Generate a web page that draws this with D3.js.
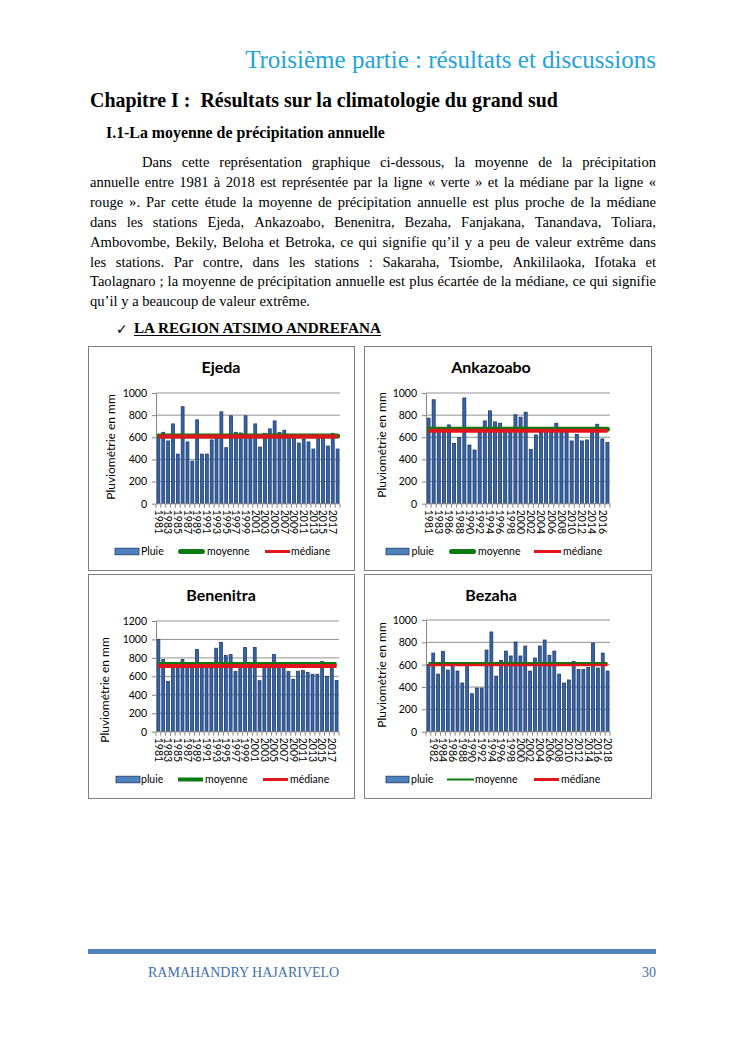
<!DOCTYPE html>
<html><head><meta charset="utf-8">
<script src="https://cdn.jsdelivr.net/npm/d3@7"></script>
<style>body{margin:0;background:#fff}svg{display:block}</style>
</head><body>
<script>
// ---------- DATA ----------
const years1981to2018 = [1981,1982,1983,1984,1985,1986,1987,1988,1989,1990,1991,1992,1993,1994,1995,1996,1997,1998,1999,2000,2001,2002,2003,2004,2005,2006,2007,2008,2009,2010,2011,2012,2013,2014,2015,2016,2017,2018];
const ankazoaboYears = [1981,1982,1983,1985,1986,1987,1988,1989,1990,1991,1992,1993,1994,1995,1996,1997,1998,1999,2000,2001,2002,2003,2004,2005,2006,2007,2008,2009,2010,2011,2012,2013,2014,2015,2016,2017];

const ejedaRain = [600,645,567,721,448,876,558,385,758,448,448,576,605,830,506,794,645,639,794,600,721,512,636,676,748,645,664,605,590,548,585,558,494,600,605,521,636,494];
const ejedaMean = 612, ejedaMedian = 607;

const ankazoaboRain = [773,939,660,650,712,545,597,955,530,485,655,748,839,739,727,665,650,803,782,827,491,621,650,660,645,727,670,655,567,627,567,576,660,718,585,555];
const ankazoaboMean = 672, ankazoaboMedian = 660;

const benenitraRain = [1000,782,545,720,725,782,728,715,891,722,718,688,905,968,825,836,653,725,913,730,913,553,722,718,836,728,722,652,569,656,663,641,623,623,760,598,730,555];
const benenitraMean = 735, benenitraMedian = 713;

const bezahaRain = [600,704,516,719,552,590,543,436,598,340,391,391,731,893,498,639,722,678,803,678,767,543,660,767,821,684,722,516,436,463,630,558,558,576,794,570,704,543];
const bezahaMean = 614, bezahaMedian = 598;

const ejedaTickLabels = [1981,1983,1985,1987,1989,1991,1993,1995,1997,1999,2001,2003,2005,2007,2009,2011,2013,2015,2017];
const ankazoaboTickLabels = [1981,1983,1986,1988,1990,1992,1994,1996,1998,2000,2002,2004,2006,2008,2010,2012,2014,2016];
const benenitraTickLabels = [1981,1983,1985,1987,1989,1991,1993,1995,1997,1999,2001,2003,2005,2007,2009,2011,2013,2015,2017];
const bezahaTickLabels = [1982,1984,1986,1988,1990,1992,1994,1996,1998,2000,2002,2004,2006,2008,2010,2012,2014,2016,2018];

const yTicks1000 = [0,200,400,600,800,1000];
const yTicks1200 = [0,200,400,600,800,1000,1200];

const legendEjeda = ["Pluie","moyenne","médiane"];
const legendOthers = ["pluie","moyenne","médiane"];
const yAxisTitle = "Pluviométrie en mm";

const headerText = "Troisième partie : résultats et discussions";
const chapterText = "Chapitre I :  Résultats sur la climatologie du grand sud";
const sectionText = "I.1-La moyenne de précipitation annuelle";
const paragraphLines = [
 "Dans cette représentation graphique ci-dessous, la moyenne de la précipitation",
 "annuelle entre 1981 à 2018 est représentée par la ligne « verte » et la médiane par la ligne «",
 "rouge ». Par cette étude la moyenne de précipitation annuelle est plus proche de la médiane",
 "dans les stations Ejeda, Ankazoabo, Benenitra, Bezaha, Fanjakana, Tanandava, Toliara,",
 "Ambovombe, Bekily, Beloha et Betroka, ce qui signifie qu’il y a peu de valeur extrême dans",
 "les stations. Par contre, dans les stations : Sakaraha, Tsiombe, Ankililaoka, Ifotaka et",
 "Taolagnaro ; la moyenne de précipitation annuelle est plus écartée de la médiane, ce qui signifie",
 "qu’il y a beaucoup de valeur extrême."
];
const regionText = "LA REGION ATSIMO ANDREFANA";
const footerName = "RAMAHANDRY HAJARIVELO";
const pageNumber = "30";

// ---------- PAGE ----------
const W = 745, H = 1053;
const svg = d3.select("body").append("svg").attr("width", W).attr("height", H);
svg.append("rect").attr("width", W).attr("height", H).attr("fill", "#fff");

function fit(sel, w) {
  const len = sel.node().getComputedTextLength();
  const fs = parseFloat(sel.attr("font-size"));
  sel.attr("font-size", fs * w / len);
  return sel;
}
const serif = "Liberation Serif, Times New Roman, serif";

fit(svg.append("text").attr("x", 656).attr("y", 68).attr("text-anchor", "end")
  .attr("font-family", serif).attr("font-size", 25).attr("fill", "#22a3dc").text(headerText), 411);

fit(svg.append("text").attr("x", 90).attr("y", 107).attr("font-family", serif).style("white-space", "pre")
  .attr("font-weight", "bold").attr("font-size", 20).attr("fill", "#000").text(chapterText), 468);

fit(svg.append("text").attr("x", 106).attr("y", 138).attr("font-family", serif)
  .attr("font-weight", "bold").attr("font-size", 16).attr("fill", "#000").text(sectionText), 279);

// justified paragraph
const pFont = 14.6;
const measurer = svg.append("text").attr("font-family", serif).attr("font-size", pFont).attr("visibility", "hidden");
function wordWidth(w) { measurer.text(w); return measurer.node().getComputedTextLength(); }
paragraphLines.forEach((line, i) => {
  const x0 = i === 0 ? 142 : 90, x1 = 656;
  const y = 167 + i * 19.9;
  const words = line.split(" ");
  const widths = words.map(wordWidth);
  const spaceW = wordWidth("a a") - wordWidth("aa");
  const total = d3.sum(widths);
  const gap = (i === paragraphLines.length - 1 || words.length < 2) ? spaceW : (x1 - x0 - total) / (words.length - 1);
  const t = svg.append("text").attr("font-family", serif).attr("font-size", pFont).attr("y", y).attr("fill", "#000");
  let x = x0;
  words.forEach((w, k) => {
    t.append("tspan").attr("x", x).text(w);
    x += widths[k] + gap;
  });
});
measurer.remove();

svg.append("text").attr("x", 116).attr("y", 334).attr("font-family", "DejaVu Sans")
  .attr("font-size", 14).attr("fill", "#000").text("✓");
fit(svg.append("text").attr("x", 134).attr("y", 333).attr("font-family", serif)
  .attr("font-weight", "bold").attr("font-size", 13.5).attr("fill", "#000").text(regionText), 247);
svg.append("line").attr("x1", 134).attr("x2", 381).attr("y1", 335.5).attr("y2", 335.5)
  .attr("stroke", "#000").attr("stroke-width", 1);

// footer
svg.append("rect").attr("x", 88).attr("y", 949).attr("width", 568).attr("height", 5).attr("fill", "#4f81bd");
svg.append("text").attr("x", 148).attr("y", 977).attr("font-family", serif).attr("font-size", 14)
  .attr("fill", "#3f6fae").text(footerName);
svg.append("text").attr("x", 656).attr("y", 977).attr("text-anchor", "end").attr("font-family", serif)
  .attr("font-size", 14).attr("fill", "#3f6fae").text(pageNumber);

// ---------- CHARTS ----------
const sans = "Lato, Carlito, Open Sans, sans-serif";
const charts = [
  {name: "Ejeda", cats: years1981to2018, rain: ejedaRain, mean: ejedaMean, median: ejedaMedian,
   ticks: ejedaTickLabels, yTicks: yTicks1000, legend: legendEjeda,
   box: [88, 346, 354, 570], plot: [156, 393, 340, 503.7], title: [221, 367], yTitle: [110.5, 447], legY: 551.5,
   lx: {sw: [115, 139], t1: 141, g: [180.5, 202.5], t2: 207, r: [265, 290], t3: 291},
   gw: 5, rw: 4, gcap: "round", lgw: 5, lrw: 3},
  {name: "Ankazoabo", cats: ankazoaboYears, rain: ankazoaboRain, mean: ankazoaboMean, median: ankazoaboMedian,
   ticks: ankazoaboTickLabels, yTicks: yTicks1000, legend: legendOthers,
   box: [364, 346, 651, 570], plot: [426, 393, 610, 503.7], title: [491, 367], yTitle: [382, 445], legY: 551.5,
   lx: {sw: [386, 409], t1: 411.5, g: [451.5, 473.5], t2: 478, r: [534, 561], t3: 563},
   gw: 5, rw: 4, gcap: "round", lgw: 5, lrw: 3},
  {name: "Benenitra", cats: years1981to2018, rain: benenitraRain, mean: benenitraMean, median: benenitraMedian,
   ticks: benenitraTickLabels, yTicks: yTicks1200, legend: legendOthers,
   box: [88, 574, 354, 798], plot: [156, 621, 339, 731.7], title: [221, 595], yTitle: [104.5, 690], legY: 779.5,
   lx: {sw: [116, 140], t1: 141, g: [178, 203], t2: 205, r: [263, 288], t3: 290},
   gw: 4, rw: 4, gcap: "butt", lgw: 4, lrw: 3},
  {name: "Bezaha", cats: years1981to2018, rain: bezahaRain, mean: bezahaMean, median: bezahaMedian,
   ticks: bezahaTickLabels, yTicks: yTicks1000, legend: legendOthers,
   box: [364, 574, 651, 798], plot: [426, 620, 610, 731.7], title: [491, 595], yTitle: [382, 675], legY: 779.5,
   lx: {sw: [386, 409], t1: 411, g: [447, 474], t2: 475, r: [534, 559], t3: 561},
   gw: 2, rw: 2.5, gcap: "butt", lgw: 2, lrw: 3}
];

const green = "#0b7a12", red = "#e3141b", axisCol = "#868686";

charts.forEach(c => {
  const g = svg.append("g");
  const [bx0, by0, bx1, by1] = c.box;
  g.append("rect").attr("x", bx0 + 0.5).attr("y", by0 + 0.5).attr("width", bx1 - bx0).attr("height", by1 - by0)
    .attr("fill", "#fff").attr("stroke", "#7f7f7f").attr("stroke-width", 1);

  const [px0, py0, px1, py1] = c.plot;
  const x = d3.scaleBand().domain(c.cats).range([px0, px1]).padding(0);
  const y = d3.scaleLinear().domain([0, d3.max(c.yTicks)]).range([py1, py0]);

  // gridlines
  g.append("g").selectAll("line").data(c.yTicks.filter(v => v > 0)).join("line")
    .attr("x1", px0).attr("x2", px1).attr("y1", d => y(d)).attr("y2", d => y(d))
    .attr("stroke", axisCol).attr("stroke-width", 0.9);

  // bars
  const bw = x.bandwidth() * 0.6;
  g.append("g").selectAll("rect").data(c.cats.map((d, i) => ({cat: d, v: c.rain[i]}))).join("rect")
    .attr("x", d => x(d.cat) + (x.bandwidth() - bw) / 2).attr("width", bw)
    .attr("y", d => y(d.v)).attr("height", d => y(0) - y(d.v))
    .attr("fill", "#3565a8").attr("stroke", "#1a3464").attr("stroke-width", 0.75);

  // mean & median lines
  const ends = [c.cats[0], c.cats[c.cats.length - 1]];
  const lineGen = val => d3.line().x(d => x(d) + x.bandwidth() / 2).y(() => y(val))(ends);
  g.append("path").attr("d", lineGen(c.mean)).attr("stroke", green).attr("stroke-width", c.gw)
    .attr("stroke-linecap", c.gcap).attr("fill", "none");
  g.append("path").attr("d", lineGen(c.median)).attr("stroke", red).attr("stroke-width", c.rw)
    .attr("fill", "none");

  // y axis
  const ya = g.append("g").attr("transform", `translate(${px0},0)`)
    .call(d3.axisLeft(y).tickValues(c.yTicks).tickSize(4).tickSizeOuter(0).tickPadding(5).tickFormat(d3.format("d")));
  ya.select(".domain").attr("stroke", axisCol);
  ya.selectAll(".tick line").attr("stroke", axisCol);
  ya.selectAll("text").attr("font-family", sans).attr("font-size", 10.5).attr("fill", "#000");

  // x axis
  g.append("line").attr("x1", px0).attr("x2", px1).attr("y1", py1).attr("y2", py1).attr("stroke", axisCol);
  g.append("g").selectAll("line").data(c.cats.concat(["__end"])).join("line")
    .attr("x1", d => d === "__end" ? px1 : x(d)).attr("x2", d => d === "__end" ? px1 : x(d))
    .attr("y1", py1).attr("y2", py1 + 4).attr("stroke", axisCol);
  g.append("g").selectAll("text").data(c.ticks).join("text")
    .attr("transform", d => `translate(${x(d) + x.bandwidth() / 2},${py1 + 6}) rotate(90)`)
    .attr("dy", "0.35em").attr("font-family", sans).attr("font-size", 10.5).attr("fill", "#000").text(d => d);

  // titles
  g.append("text").attr("x", c.title[0]).attr("y", c.title[1] + 5.5).attr("text-anchor", "middle")
    .attr("font-family", sans).attr("font-weight", "bold").attr("font-size", 16).attr("fill", "#000").text(c.name);
  g.append("text").attr("transform", `translate(${c.yTitle[0]},${c.yTitle[1]}) rotate(-90)`)
    .attr("text-anchor", "middle").attr("dy", "0.35em").attr("font-family", sans).attr("font-size", 12)
    .attr("fill", "#000").text(yAxisTitle);

  // legend
  const ly = c.legY, L = c.lx;
  g.append("rect").attr("x", L.sw[0]).attr("y", ly - 3.3).attr("width", L.sw[1] - L.sw[0]).attr("height", 6.6)
    .attr("fill", "#4f81bd").attr("stroke", "#1d3a6c").attr("stroke-width", 0.8);
  g.append("line").attr("x1", L.g[0]).attr("x2", L.g[1]).attr("y1", ly).attr("y2", ly)
    .attr("stroke", green).attr("stroke-width", c.lgw).attr("stroke-linecap", c.gcap);
  g.append("line").attr("x1", L.r[0]).attr("x2", L.r[1]).attr("y1", ly).attr("y2", ly)
    .attr("stroke", red).attr("stroke-width", c.lrw);
  [[L.t1, c.legend[0]], [L.t2, c.legend[1]], [L.t3, c.legend[2]]].forEach(([tx, label]) => {
    g.append("text").attr("x", tx).attr("y", ly).attr("dy", "0.35em").attr("font-family", sans)
      .attr("font-size", 10.5).attr("fill", "#000").text(label);
  });
});
</script>
</body></html>
